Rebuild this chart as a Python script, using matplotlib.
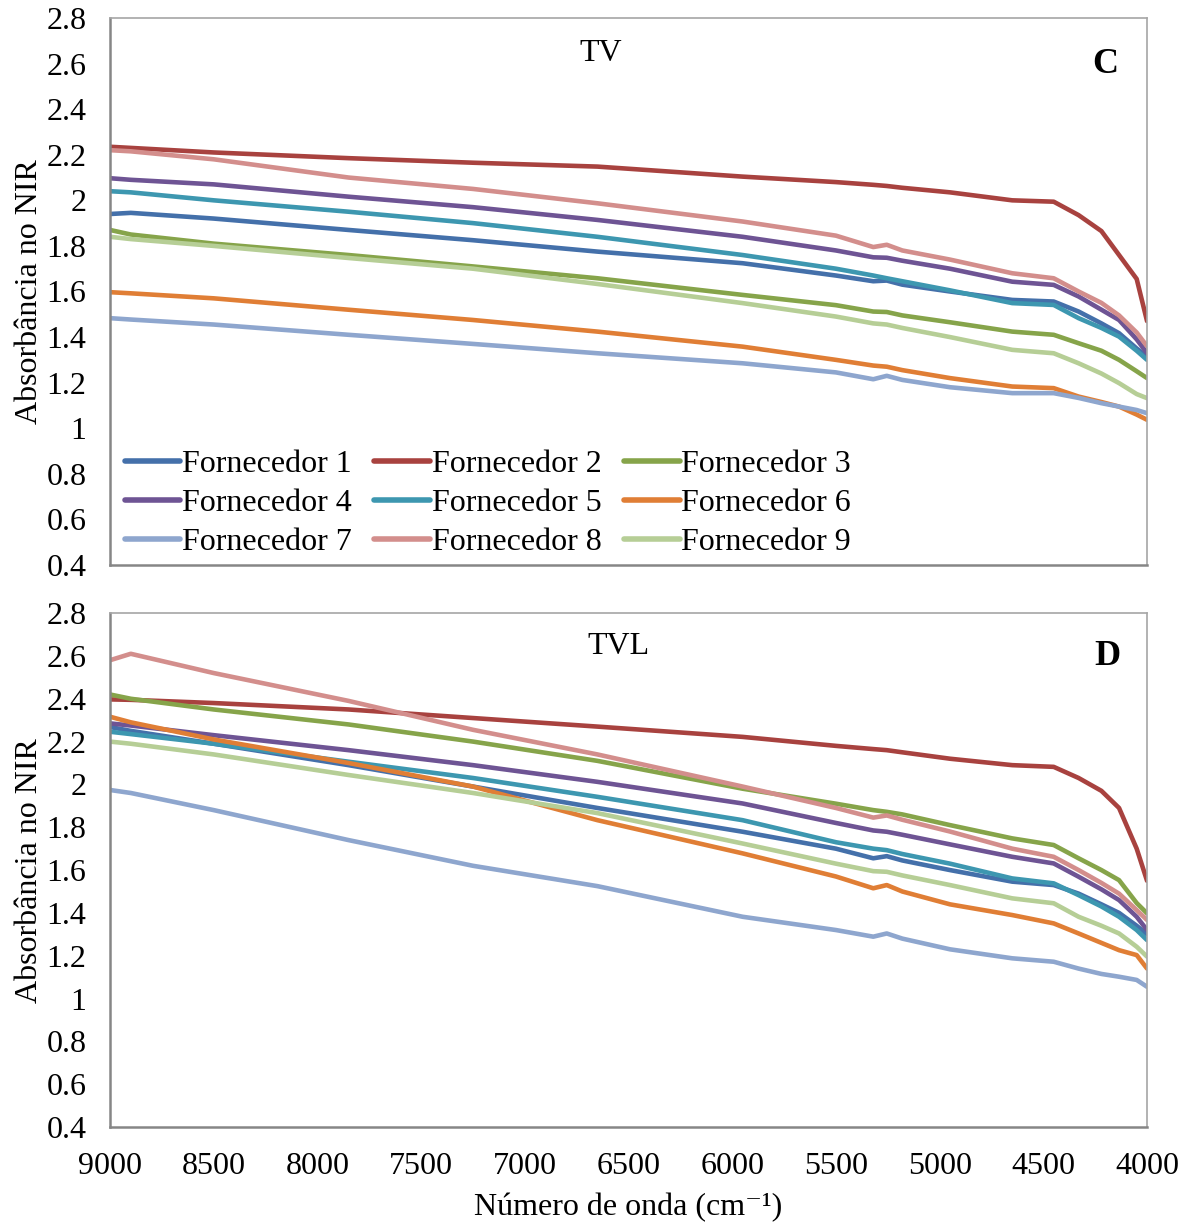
import matplotlib
matplotlib.use("Agg")
import matplotlib.pyplot as plt

plt.rcParams['font.family'] = ['Liberation Serif', 'DejaVu Serif']

wavenumber = [9000, 8900, 8500, 7850, 7250, 6650, 5950, 5500, 5320, 5255, 5180,
              4950, 4650, 4450, 4330, 4220, 4135, 4050, 4000]

series_names = ["Fornecedor 1", "Fornecedor 2", "Fornecedor 3",
                "Fornecedor 4", "Fornecedor 5", "Fornecedor 6",
                "Fornecedor 7", "Fornecedor 8", "Fornecedor 9"]

colors = ["#4470AA", "#A8423F", "#86A44A", "#6E5494", "#3D97B0",
          "#E07E35", "#8EA6CE", "#D38E8C", "#B6CE96"]

# Panel C (TV)
tv_f1 = [1.94, 1.945, 1.92, 1.87, 1.825, 1.775, 1.724, 1.67, 1.645, 1.648, 1.63,
         1.60, 1.563, 1.556, 1.512, 1.46, 1.417, 1.35, 1.315]
tv_f2 = [2.235, 2.23, 2.21, 2.185, 2.165, 2.148, 2.104, 2.08, 2.068, 2.063, 2.055,
         2.035, 2.00, 1.994, 1.935, 1.865, 1.76, 1.655, 1.47]
tv_f3 = [1.87, 1.85, 1.81, 1.76, 1.71, 1.658, 1.585, 1.54, 1.512, 1.51, 1.495,
         1.465, 1.424, 1.41, 1.373, 1.34, 1.30, 1.25, 1.22]
tv_f4 = [2.097, 2.09, 2.07, 2.016, 1.97, 1.914, 1.84, 1.78, 1.75, 1.748, 1.735,
         1.70, 1.643, 1.629, 1.578, 1.52, 1.475, 1.39, 1.33]
tv_f5 = [2.04, 2.035, 2.0, 1.95, 1.90, 1.84, 1.76, 1.70, 1.67, 1.658, 1.645,
         1.605, 1.549, 1.541, 1.483, 1.44, 1.402, 1.34, 1.30]
tv_f6 = [1.597, 1.592, 1.57, 1.52, 1.475, 1.424, 1.358, 1.30, 1.275, 1.27, 1.255,
         1.22, 1.183, 1.176, 1.139, 1.115, 1.095, 1.06, 1.037]
tv_f7 = [1.483, 1.477, 1.455, 1.41, 1.37, 1.329, 1.285, 1.245, 1.215, 1.23, 1.212,
         1.18, 1.154, 1.154, 1.133, 1.11, 1.095, 1.08, 1.066]
tv_f8 = [2.22, 2.215, 2.18, 2.10, 2.05, 1.987, 1.907, 1.845, 1.795, 1.805, 1.78,
         1.74, 1.68, 1.658, 1.600, 1.55, 1.495, 1.42, 1.36]
tv_f9 = [1.84, 1.83, 1.80, 1.747, 1.70, 1.633, 1.549, 1.49, 1.46, 1.455, 1.44,
         1.40, 1.344, 1.329, 1.285, 1.24, 1.198, 1.15, 1.132]

# Panel D (TVL)
tvl_f1 = [2.268, 2.25, 2.19, 2.09, 1.99, 1.89, 1.779, 1.70, 1.655, 1.665, 1.645,
          1.60, 1.546, 1.53, 1.49, 1.44, 1.40, 1.34, 1.30]
tvl_f2 = [2.397, 2.395, 2.38, 2.35, 2.31, 2.27, 2.222, 2.18, 2.165, 2.16, 2.15,
          2.12, 2.09, 2.082, 2.03, 1.97, 1.89, 1.70, 1.55]
tvl_f3 = [2.42, 2.40, 2.35, 2.28, 2.20, 2.11, 1.98, 1.91, 1.88, 1.872, 1.86,
          1.81, 1.748, 1.717, 1.655, 1.60, 1.553, 1.446, 1.398]
tvl_f4 = [2.285, 2.275, 2.23, 2.16, 2.09, 2.012, 1.911, 1.82, 1.785, 1.779, 1.765,
          1.72, 1.662, 1.631, 1.569, 1.51, 1.46, 1.382, 1.32]
tvl_f5 = [2.246, 2.235, 2.19, 2.106, 2.03, 1.942, 1.833, 1.73, 1.70, 1.693, 1.675,
          1.63, 1.561, 1.538, 1.483, 1.43, 1.382, 1.32, 1.273]
tvl_f6 = [2.316, 2.29, 2.21, 2.10, 1.99, 1.833, 1.678, 1.57, 1.515, 1.53, 1.50,
          1.44, 1.39, 1.351, 1.304, 1.26, 1.226, 1.203, 1.14]
tvl_f7 = [1.974, 1.96, 1.88, 1.74, 1.62, 1.525, 1.382, 1.32, 1.289, 1.304, 1.28,
          1.23, 1.188, 1.172, 1.14, 1.115, 1.102, 1.087, 1.055]
tvl_f8 = [2.58, 2.61, 2.52, 2.39, 2.255, 2.14, 1.99, 1.89, 1.845, 1.855, 1.835,
          1.78, 1.70, 1.662, 1.60, 1.54, 1.49, 1.413, 1.367]
tvl_f9 = [2.20, 2.19, 2.14, 2.044, 1.96, 1.866, 1.724, 1.63, 1.595, 1.592, 1.575,
          1.53, 1.468, 1.445, 1.382, 1.34, 1.304, 1.242, 1.196]

tv_data = [tv_f1, tv_f2, tv_f3, tv_f4, tv_f5, tv_f6, tv_f7, tv_f8, tv_f9]
tvl_data = [tvl_f1, tvl_f2, tvl_f3, tvl_f4, tvl_f5, tvl_f6, tvl_f7, tvl_f8, tvl_f9]

yticks = [0.4, 0.6, 0.8, 1, 1.2, 1.4, 1.6, 1.8, 2, 2.2, 2.4, 2.6, 2.8]
ytick_labels = ["0.4", "0.6", "0.8", "1", "1.2", "1.4", "1.6", "1.8", "2",
                "2.2", "2.4", "2.6", "2.8"]
xticks = [9000, 8500, 8000, 7500, 7000, 6500, 6000, 5500, 5000, 4500, 4000]

FS = 23

fig = plt.figure(figsize=(11.91, 12.24), dpi=100)
ax1 = fig.add_axes([0.0924, 0.5384, 0.8707, 0.4469])
ax2 = fig.add_axes([0.0924, 0.0792, 0.8707, 0.4199])

for ax, data in ((ax1, tv_data), (ax2, tvl_data)):
    for i in range(9):
        ax.plot(wavenumber, data[i], color=colors[i], lw=3.3,
                label=series_names[i], solid_capstyle='round',
                solid_joinstyle='round')
    ax.set_xlim(9000, 4000)
    ax.set_ylim(0.4, 2.8)
    ax.set_yticks(yticks)
    ax.set_yticklabels(ytick_labels, fontsize=FS)
    ax.set_xticks(xticks)
    ax.tick_params(axis='y', length=0, pad=17)
    ax.set_ylabel("Absorbância no NIR", fontsize=FS, labelpad=2)
    for s in ("left", "bottom"):
        ax.spines[s].set_color("#868686")
        ax.spines[s].set_linewidth(1.8)
    for s in ("top", "right"):
        ax.spines[s].set_color("#A6A6A6")
        ax.spines[s].set_linewidth(1.2)

ax1.tick_params(axis='x', length=0, labelbottom=False)
ax2.set_xticklabels([str(v) for v in xticks], fontsize=FS)
ax2.tick_params(axis='x', length=0, pad=18)
fig.text(0.5273, 1 - 1208 / 1224, "Número de onda (cm\u207b\u00b9)",
         fontsize=FS, ha="center", va="center")

ax1.text(0.473, 0.935, "TV", transform=ax1.transAxes, fontsize=FS,
         ha="center", va="center")
ax1.text(0.960, 0.915, "C", transform=ax1.transAxes, fontsize=FS + 3,
         fontweight="bold", ha="center", va="center")
ax2.text(0.490, 0.935, "TVL", transform=ax2.transAxes, fontsize=FS,
         ha="center", va="center")
ax2.text(0.962, 0.915, "D", transform=ax2.transAxes, fontsize=FS + 3,
         fontweight="bold", ha="center", va="center")

handles, labels = ax1.get_legend_handles_labels()
order = [0, 3, 6, 1, 4, 7, 2, 5, 8]
leg = ax1.legend([handles[k] for k in order], [labels[k] for k in order],
                 ncol=3, loc="lower left",
                 bbox_to_anchor=(-0.006, -0.024), frameon=False, fontsize=FS,
                 handlelength=1.75, handletextpad=0.05, columnspacing=0.7,
                 labelspacing=0.3, borderaxespad=0.25)
for line in leg.get_lines():
    line.set_linewidth(4)

fig.savefig("out.png", dpi=100)
